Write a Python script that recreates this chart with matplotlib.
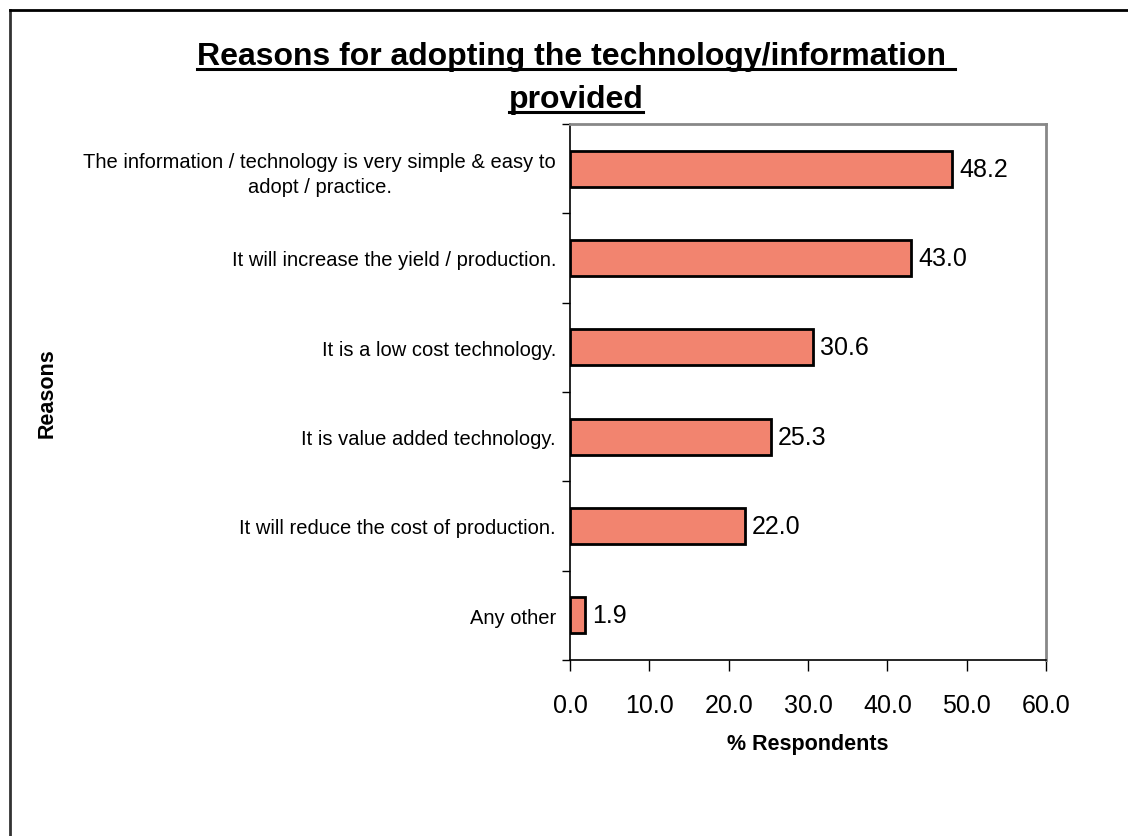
import numpy as np
import matplotlib.pyplot as plt
from matplotlib.lines import Line2D

plt.rcParams['font.family'] = ['Liberation Sans', 'DejaVu Sans']

# data
reasons = ['The information / technology is very simple & easy to\nadopt / practice.',
           'It will increase the yield / production.',
           'It is a low cost technology.',
           'It is value added technology.',
           'It will reduce the cost of production.',
           'Any other']
pct = [48.2, 43.0, 30.6, 25.3, 22.0, 1.9]
xticks = [0, 10, 20, 30, 40, 50, 60]

fig = plt.figure(figsize=(11.28, 8.37), dpi=100)
ax = fig.add_axes([570/1128, 1-661/837, 476/1128, 536/837])

y = np.arange(len(reasons))
bars = ax.barh(y, pct, height=0.4, color='#f2846f', edgecolor='black', linewidth=2)
ax.set_ylim(len(reasons)-0.5, -0.5)
ax.set_xlim(0, 60)

for yi, v in zip(y, pct):
    ax.text(v + 0.9, yi, f'{v:.1f}', va='center', ha='left', fontsize=18)

ax.set_xticks(xticks)
ax.set_xticklabels([f'{t:.1f}' for t in xticks], fontsize=18)
ax.tick_params(axis='x', direction='out', length=8, width=1, pad=16)
ax.set_yticks(y)
ax.set_yticklabels(reasons, fontsize=14.5, multialignment='center', linespacing=1.4)
ax.tick_params(axis='y', length=0, pad=10)
ax.set_yticks(np.arange(len(reasons)+1) - 0.5, minor=True)
ax.tick_params(axis='y', which='minor', direction='out', length=6, width=1)

for s in ['left', 'bottom']:
    ax.spines[s].set_color('black')
    ax.spines[s].set_linewidth(1.2)
for s in ['top', 'right']:
    ax.spines[s].set_color('#888888')
    ax.spines[s].set_linewidth(2)

ax.set_xlabel('% Respondents', fontsize=15.5, fontweight='bold', labelpad=11)
fig.text(47/1128, 1-393/837, 'Reasons', rotation=90, fontsize=15.5,
         fontweight='bold', ha='center', va='center')

# title with underline
t1 = fig.text(576/1128, 1-57/837, 'Reasons for adopting the technology/information ',
              fontsize=23, fontweight='bold', ha='center', va='center')
t2 = fig.text(576/1128, 1-100/837, 'provided', fontsize=23, fontweight='bold',
              ha='center', va='center')
fig.canvas.draw()
r = fig.canvas.get_renderer()
for t in (t1, t2):
    bb = t.get_window_extent(r)
    yy = (bb.y0 + 2) / 837
    fig.add_artist(Line2D([bb.x0/1128, bb.x1/1128], [yy, yy], color='black', lw=2.2))

# outer frame (left and top only)
fig.add_artist(Line2D([10/1128, 10/1128], [0, 1-11/837], color='#333333', lw=2))
fig.add_artist(Line2D([10/1128, 1], [1-11/837, 1-11/837], color='black', lw=2))

fig.savefig('out.png', dpi=100)
